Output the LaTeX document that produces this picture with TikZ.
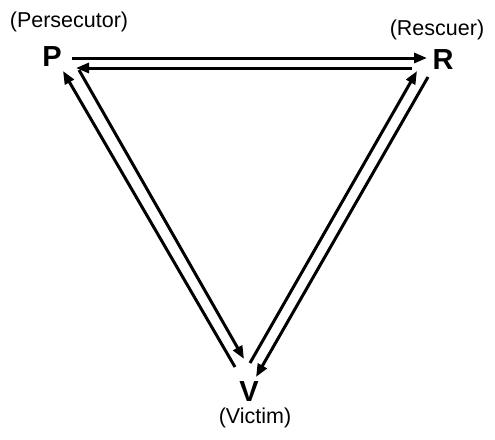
\documentclass[tikz,border=0pt]{standalone}
\usepackage{fontspec}
\setmainfont{Liberation Sans}
\usetikzlibrary{arrows.meta}
\begin{document}
\begin{tikzpicture}[x=1pt,y=-1pt,
  letter/.style={inner sep=0pt,font=\fontsize{29}{30}\selectfont\bfseries},
  role/.style={inner sep=0pt,font=\fontsize{21.5}{24}\selectfont},
  link/.style={line width=3pt,-{Triangle[length=13pt,width=10pt]}}]
\useasboundingbox (0,0) rectangle (495,439);
\node[letter] (P) at (52,57) {P};
\node[letter] (R) at (443,60) {R};
\node[letter] (V) at (249,392) {V};
\node[role] (lp) at (69,21.5) {(Persecutor)};
\node[role] (lr) at (437,30) {(Rescuer)};
\node[role] (lv) at (255,418) {(Victim)};
% top pair
\coordinate (pr1) at (72,58);  \coordinate (pr2) at (427,58);
\coordinate (rp1) at (412,68); \coordinate (rp2) at (76,68);
% left pair
\coordinate (vp1) at (235,367); \coordinate (vp2) at (63,71);
\coordinate (pv1) at (79,70);   \coordinate (pv2) at (244,359);
% right pair
\coordinate (vr1) at (250,363); \coordinate (vr2) at (417,71);
\coordinate (rv1) at (428,77);  \coordinate (rv2) at (256,377);
\draw[link] (pr1) -- (pr2);
\draw[link] (rp1) -- (rp2);
\draw[link] (vp1) -- (vp2);
\draw[link] (pv1) -- (pv2);
\draw[link] (vr1) -- (vr2);
\draw[link] (rv1) -- (rv2);
\end{tikzpicture}
\end{document}
